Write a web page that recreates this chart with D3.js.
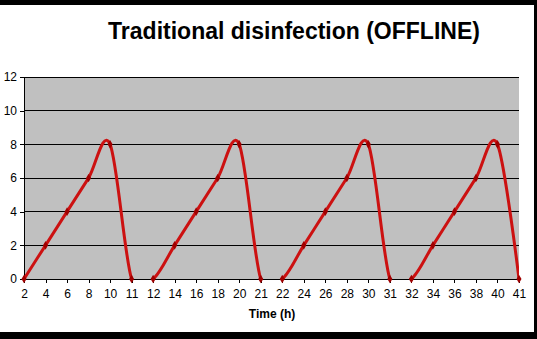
<!DOCTYPE html>
<html>
<head>
<meta charset="utf-8">
<script src="https://cdn.jsdelivr.net/npm/d3@7"></script>
<style>
  body { margin: 0; background: #fff; }
  svg { display: block; font-family: "Liberation Sans", Arial, sans-serif; }
</style>
</head>
<body>
<svg id="chart"></svg>
<script>
// time categories (h) as printed on the axis
const times = ["2","4","6","8","10","11","12","14","16","18","20","21","22","24","26","28","30","31","32","34","36","38","40","41"];
const values = [0,2,4,6,8,0, 0,2,4,6,8,0, 0,2,4,6,8,0, 0,2,4,6,8,0];
const yTicks = [0,2,4,6,8,10,12];

const W = 537, H = 339;
const margin = { top: 77, right: 18, bottom: 60, left: 24 };
const width = W - margin.left - margin.right;
const height = H - margin.top - margin.bottom;

const svg = d3.select("#chart").attr("width", W).attr("height", H);

// black frame bits from the screenshot
svg.append("rect").attr("x", 0).attr("y", 0).attr("width", W).attr("height", 5).attr("fill", "#000");
svg.append("rect").attr("x", 0).attr("y", 332).attr("width", W).attr("height", 7).attr("fill", "#000");
svg.append("rect").attr("x", 534).attr("y", 0).attr("width", 3).attr("height", H).attr("fill", "#000");

svg.append("text")
  .attr("x", 294)
  .attr("y", 39)
  .attr("text-anchor", "middle")
  .attr("font-size", 23)
  .attr("font-weight", "bold")
  .text("Traditional disinfection (OFFLINE)");

const g = svg.append("g").attr("transform", `translate(${margin.left},${margin.top})`);

const x = d3.scalePoint().domain(d3.range(times.length)).range([0, width]);
const y = d3.scaleLinear().domain([0, 12]).range([height, 0]);

g.append("rect")
  .attr("width", width)
  .attr("height", height)
  .attr("fill", "#c0c0c0");

// gridlines
g.append("g")
  .selectAll("line")
  .data(yTicks.slice(1))
  .join("line")
  .attr("x1", 0)
  .attr("x2", width)
  .attr("y1", (d) => y(d))
  .attr("y2", (d) => y(d))
  .attr("stroke", "#000")
  .attr("stroke-width", 1)
  .attr("shape-rendering", "crispEdges");

const yAxis = d3.axisLeft(y).tickValues(yTicks).tickSize(4).tickPadding(3);
const xAxis = d3.axisBottom(x).tickFormat((i) => times[i]).tickSize(4).tickPadding(6);

const ya = g.append("g").call(yAxis);
const xa = g.append("g").attr("transform", `translate(0,${height})`).call(xAxis);
[ya, xa].forEach((a) => {
  a.selectAll("path, line").attr("stroke", "#000").attr("shape-rendering", "crispEdges");
  a.selectAll("text").attr("font-size", 12).attr("fill", "#000")
    .attr("font-family", "'Liberation Sans', Arial, sans-serif");
});

g.append("text")
  .attr("x", 248)
  .attr("y", height + 39)
  .attr("text-anchor", "middle")
  .attr("font-size", 12)
  .attr("font-weight", "bold")
  .text("Time (h)");

// line clipped to plot area, like Excel does
g.append("clipPath").attr("id", "plot")
  .append("rect").attr("width", width).attr("height", height);

const line = d3.line()
  .x((d, i) => x(i))
  .y((d) => y(d))
  .curve(d3.curveCardinal.tension(0));

g.append("path")
  .datum(values)
  .attr("clip-path", "url(#plot)")
  .attr("d", line)
  .attr("fill", "none")
  .attr("stroke", "#cc1111")
  .attr("stroke-width", 3);

const diamond = d3.symbol().type(d3.symbolDiamond).size(22);
g.append("g")
  .selectAll("path")
  .data(values)
  .join("path")
  .attr("transform", (d, i) => `translate(${x(i)},${y(d)})`)
  .attr("d", diamond)
  .attr("fill", "#a00000");
</script>
</body>
</html>
